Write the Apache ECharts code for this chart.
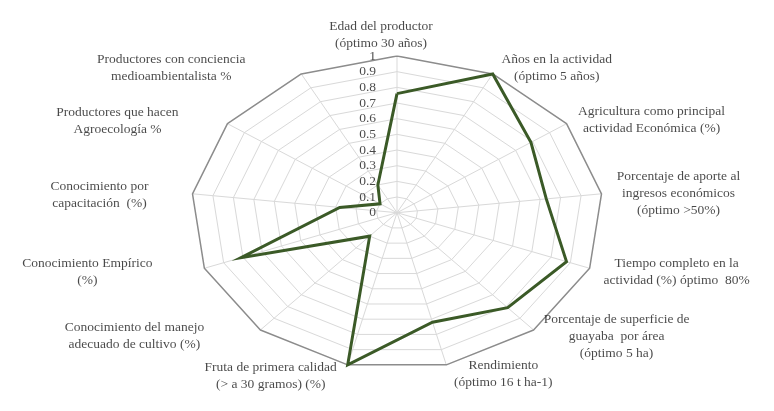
<!DOCTYPE html>
<html>
<head>
<meta charset="utf-8">
<script src="https://cdn.jsdelivr.net/npm/echarts@6/dist/echarts.min.js"></script>
<style>
html,body{margin:0;padding:0;background:#fff;}
#chart{width:774px;height:411px;}
</style>
</head>
<body>
<div id="chart"></div>
<script>
// ---- data ----
const indicators = [
  'Edad del productor\n(óptimo 30 años)',
  'Años en la actividad\n(óptimo 5 años)',
  'Agricultura como principal\nactividad Económica (%)',
  'Porcentaje de aporte al\ningresos económicos\n(óptimo >50%)',
  'Tiempo completo en la\nactividad (%) óptimo  80%',
  'Porcentaje de superficie de\nguayaba  por área\n(óptimo 5 ha)',
  'Rendimiento\n(óptimo 16 t ha-1)',
  'Fruta de primera calidad\n(> a 30 gramos) (%)',
  'Conocimiento del manejo\nadecuado de cultivo (%)',
  'Conocimiento Empírico\n(%)',
  'Conocimiento por\ncapacitación  (%)',
  'Productores que hacen\nAgroecología %',
  'Productores con conciencia\nmedioambientalista %'
];
const values = [0.76, 1.0, 0.79, 0.73, 0.88, 0.81, 0.72, 1.0, 0.2, 0.81, 0.28, 0.1, 0.2];
const tickLabels = ['0','0.1','0.2','0.3','0.4','0.5','0.6','0.7','0.8','0.9','1'];

// ---- layout / style (not data) ----
const labelOffsets = [
  [-16,-21],[64,-6],[85,-4],[77,0],[87,4],[83,6],[57,9],
  [-77,11],[-126,6],[-117,4],[-93,1],[-110,-3],[-130,-6]
];
const FONT = 'Liberation Serif';

const N = indicators.length;
function pt(v, k) {
  const a = 2 * Math.PI * k / N;
  return [v * Math.sin(a), v * Math.cos(a)];
}
function ring(v) {
  const d = [];
  for (let k = 0; k <= N; k++) d.push(pt(v, k % N));
  return d;
}

const series = [];
const levels = tickLabels.map(Number);
// spokes
for (let k = 0; k < N; k++) {
  series.push({
    type: 'line', data: [[0, 0], pt(1, k)], symbol: 'none', silent: true,
    lineStyle: { color: '#d9d9d9', width: 1 }, z: 1
  });
}
// rings
levels.forEach((lv, i) => {
  if (lv === 0) return;
  const outer = i === levels.length - 1;
  series.push({
    type: 'line', data: ring(lv), symbol: 'none', silent: true,
    lineStyle: { color: outer ? '#8c8c8c' : '#d9d9d9', width: outer ? 1.5 : 1 },
    z: outer ? 3 : 2
  });
});
// data polygon
const poly = values.map((v, k) => pt(v, k));
poly.push(poly[0]);
series.push({
  type: 'line', data: poly, symbol: 'none',
  lineStyle: { color: '#3b5a27', width: 3, join: 'miter' }, z: 5
});
// tick labels
series.push({
  type: 'scatter', symbolSize: 0, z: 6,
  data: levels.map((lv, i) => ({ value: [0, lv], name: tickLabels[i] })),
  label: {
    show: true, position: 'left', distance: 21,
    formatter: p => p.name,
    fontFamily: FONT, fontSize: 13.5, color: '#1a1a1a'
  }
});
// indicator names
series.push({
  type: 'scatter', symbolSize: 0, z: 6,
  data: indicators.map((name, k) => ({
    value: pt(1, k), name: name,
    label: { offset: labelOffsets[k] }
  })),
  label: {
    show: true, position: 'inside', align: 'center', verticalAlign: 'middle',
    formatter: p => p.name,
    fontFamily: FONT, fontSize: 13.5, lineHeight: 17, color: '#1a1a1a'
  }
});

const hiddenAxis = {
  type: 'value', min: -1, max: 1,
  axisLine: { show: false }, axisTick: { show: false },
  axisLabel: { show: false }, splitLine: { show: false }
};

const chart = echarts.init(document.getElementById('chart'), null, { renderer: 'canvas' });
chart.setOption({
  backgroundColor: '#ffffff',
  animation: false,
  grid: { left: 191, top: 56, width: 412, height: 313.4 },
  xAxis: hiddenAxis,
  yAxis: hiddenAxis,
  series: series
});
</script>
</body>
</html>
